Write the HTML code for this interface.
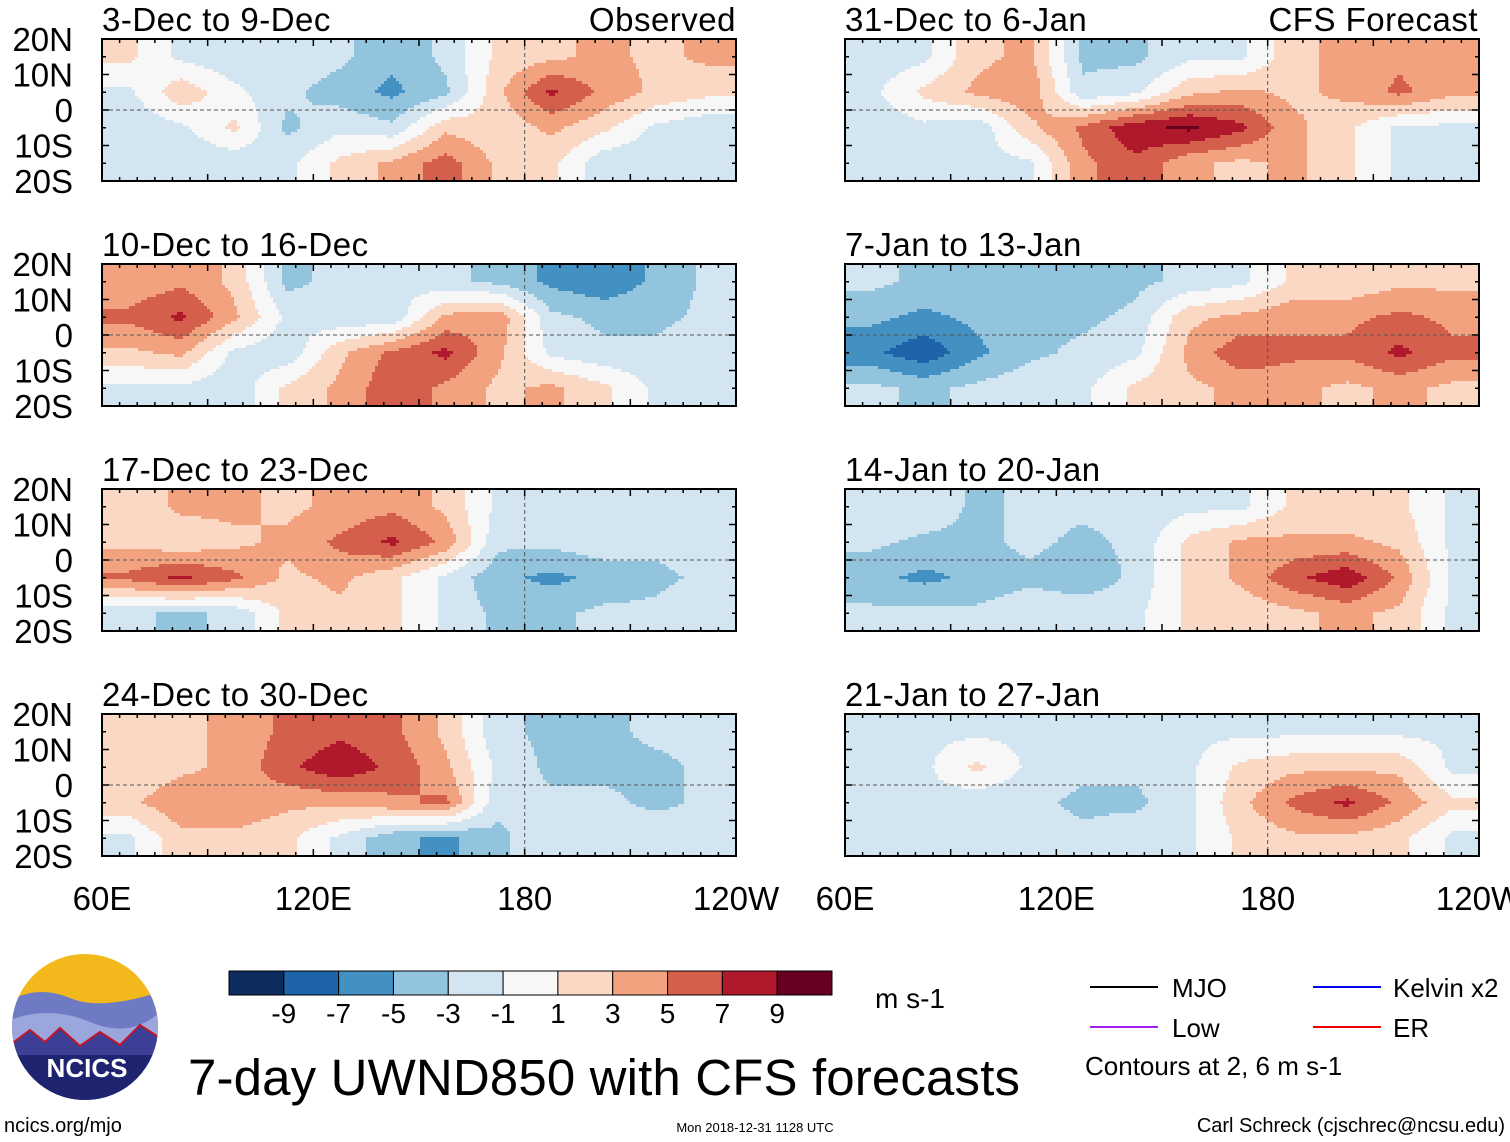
<!DOCTYPE html>
<html><head><meta charset="utf-8"><style>
html,body{margin:0;padding:0;background:#fff;}
svg{display:block;font-family:"Liberation Sans",sans-serif;}
</style></head><body>
<svg id="root" width="1510" height="1142" viewBox="0 0 1510 1142" xmlns="http://www.w3.org/2000/svg">
<g id="panels"></g>
<g id="labels"></g>
<g id="cbar"></g>
<g>
  <clipPath id="logoclip"><circle cx="85" cy="1027" r="73"/></clipPath>
  <g clip-path="url(#logoclip)">
    <rect x="10" y="952" width="150" height="150" fill="#f2b81c"/>
    <path d="M10 1000 Q40 985 70 998 T160 992 L160 1102 L10 1102Z" fill="#6e7bc4"/>
    <path d="M10 1020 Q50 1005 90 1022 T160 1012 L160 1102 L10 1102Z" fill="#9aa6dc"/>
    <path d="M10 1045 L30 1030 L45 1042 L60 1028 L80 1046 L100 1032 L120 1045 L140 1025 L160 1038 L160 1102 L10 1102Z" fill="#3c3f95" stroke="#c0142a" stroke-width="2"/>
    <rect x="10" y="1055" width="150" height="50" fill="#1e2470"/>
  </g>
  <text x="87" y="1077" font-size="26" font-weight="bold" fill="#fff" text-anchor="middle">NCICS</text>
</g>
<text x="188" y="1095" font-size="51" textLength="832" fill="#000">7-day UWND850 with CFS forecasts</text>
<text x="4" y="1132" font-size="20">ncics.org/mjo</text>
<text x="755" y="1132" font-size="13" text-anchor="middle">Mon 2018-12-31 1128 UTC</text>
<text x="1505" y="1132" font-size="20" text-anchor="end">Carl Schreck (cjschrec@ncsu.edu)</text>
<text x="875" y="1008" font-size="28">m s-1</text>
<g>
  <line x1="1090" y1="987" x2="1158" y2="987" stroke="#000" stroke-width="2"/>
  <text x="1172" y="997" font-size="26">MJO</text>
  <line x1="1090" y1="1027" x2="1158" y2="1027" stroke="#a020f0" stroke-width="2"/>
  <text x="1172" y="1037" font-size="26">Low</text>
  <line x1="1313" y1="987" x2="1381" y2="987" stroke="#0000ee" stroke-width="2"/>
  <text x="1393" y="997" font-size="26">Kelvin x2</text>
  <line x1="1313" y1="1027" x2="1381" y2="1027" stroke="#ee0000" stroke-width="2"/>
  <text x="1393" y="1037" font-size="26">ER</text>
  <text x="1085" y="1075" font-size="26">Contours at 2, 6 m s-1</text>
</g>
</svg>
<script>
const panelTitles = ["3-Dec to 9-Dec","10-Dec to 16-Dec","17-Dec to 23-Dec","24-Dec to 30-Dec","31-Dec to 6-Jan","7-Jan to 13-Jan","14-Jan to 20-Jan","21-Jan to 27-Jan"];
const gridLons = [67.5,82.5,97.5,112.5,127.5,142.5,157.5,172.5,187.5,202.5,217.5,232.5];
const gridLats = [15,5,-5,-15];
const field1 = [[1.5,-1.5,-2.5,-1.5,-2.5,-4.5,-2.5,1.5,2.5,3.5,2.5,3.5],[-1.5,2.5,-0.5,-2.5,-4,-5.5,-3.5,2.5,7.5,4.5,2.5,1.5],[-2.5,-1.5,1.5,-3.5,-1.5,-2.5,2.5,1.5,3.5,1.5,-1.5,-2.5],[-1.5,-2.5,-2.5,-1.5,1.5,3.5,6,2.5,1.5,-2.5,-2.5,-1.5]];
const field2 = [[3.5,4.5,2.5,-3.5,-2.5,-1.5,-2.5,-3.5,-5.5,-6.5,-4.5,-2.5],[5.5,7.5,3.5,-1.5,-2.5,-2.5,3.5,4.5,-2.5,-3.5,-3.5,-2.5],[2.5,3.5,-1.5,-2.5,2.5,5.5,7.5,3.5,-1.5,-2.5,-2.5,-1.5],[-1.5,-1.5,-2.5,1.5,3.5,6.5,4.5,2.5,3.5,1.5,-1.5,-1.5]];
const field3 = [[1.5,3.5,3.5,2.5,3.5,4.5,2.5,-1.5,-1.5,-1.5,-2.5,-1.5],[2.5,1.5,2.5,3.5,5.5,7.5,4.5,-2.5,-2.5,-1.5,-2.5,-1.5],[5.5,7.5,5.5,2.5,3.5,1.5,-1.5,-4.5,-5.5,-4.5,-3.5,-2.5],[-2.5,-3.5,-2.5,1.5,2.5,1.5,-1.5,-3.5,-3.5,-2.5,-2.5,-1.5]];
const field4 = [[1.5,2.5,3.5,5.5,6.5,5.5,2.5,-2.5,-3.5,-3.5,-2.5,-2.5],[1.5,2.5,3.5,6.5,8.5,6.5,3.5,-1.5,-3.5,-3.5,-3.5,-2.5],[2.5,4.5,4.5,3.5,3.5,4.5,5.5,-2.5,-2.5,-2.5,-3.5,-2.5],[-1.5,2.5,2.5,1.5,-1.5,-4.5,-5.5,-3.5,-1.5,-1.5,-1.5,-1.5]];
const field5 = [[-2.5,-1.5,2.5,3.5,-3.5,-3.5,-1.5,-1.5,2.5,3.5,4.5,3.5],[-1.5,1.5,3.5,4.5,-2.5,-1.5,2.5,3.5,2.5,3.5,5.5,3.5],[-2.5,-1.5,-2.5,2.5,5.5,8.5,9.5,7.5,3.5,1.5,-1.5,-1.5],[-1.5,-2.5,-1.5,-1.5,4.5,6.5,3.5,2.5,3.5,1.5,-1.5,-1.5]];
const field6 = [[-2.5,-3.5,-3.5,-3.5,-4.5,-3.5,-2.5,-1.5,1.5,1.5,2.5,2.5],[-4.5,-5.5,-4.5,-3.5,-3.5,-2.5,2.5,3.5,4.5,4.5,5.5,4.5],[-6.5,-8.5,-5.5,-3.5,-2.5,-1.5,3.5,6.5,5.5,5.5,7.5,5.5],[-2.5,-3.5,-2.5,-1.5,-1.5,1.5,2.5,3.5,3.5,2.5,3.5,2.5]];
const field7 = [[-1.5,-1.5,-3.5,-2.5,-2.5,-2.5,-1.5,-1.5,1.5,1.5,1.5,-1.5],[-2.5,-3.5,-3.5,-2.5,-3.5,-2.5,1.5,3.5,3.5,3.5,2.5,-1.5],[-4.5,-5.5,-4.5,-3.5,-4.5,-2.5,1.5,3.5,6.5,8.5,4.5,-1.5],[-2.5,-2.5,-2.5,-1.5,-1.5,-1.5,1.5,1.5,2.5,3.5,2.5,-1.5]];
const field8 = [[-1.5,-1.5,-1.5,-1.5,-1.5,-1.5,-1.5,-1.5,-1.5,-1.5,-1.5,-1.5],[-1.5,-1.5,1.5,-1.5,-2.5,-2.5,-1.5,1.5,2.5,2.5,2.5,-1.5],[-1.5,-1.5,-2.5,-2.5,-3.5,-3.5,-1.5,2.5,5.5,7.5,4.5,1.5],[-1.5,-1.5,-1.5,-1.5,-2.5,-1.5,-1.5,1.5,2.5,2.5,1.5,-1.5]];
const fields = [field1,field2,field3,field4,field5,field6,field7,field8];
const cbarLevels = [-9,-7,-5,-3,-1,1,3,5,7,9];
const cbarColors = ["#0b2c5c","#1f63a8","#4291c2","#93c4de","#d2e5f0","#f7f7f7","#fbd8c4","#f2a27f","#d35f4c","#b0182b","#670020"];
const latTicks = ["20N","10N","0","10S","20S"];
const lonTicks = ["60E","120E","180","120W"];
const lonTickVals = [60,120,180,240];

const NS="http://www.w3.org/2000/svg";
function mk(tag,attrs,parent){const e=document.createElementNS(NS,tag);for(const k in attrs)e.setAttribute(k,attrs[k]);parent.appendChild(e);return e;}
const PW=634, PH=142;
const colX=[102,845], rowY=[39,264,489,714];
function colorFor(v){let i=0;while(i<cbarLevels.length&&v>=cbarLevels[i])i++;return cbarColors[i];}
function interp(f,lon,lat){
  const fc=(lon-gridLons[0])/15, fr=(gridLats[0]-lat)/10;
  const c0=Math.max(0,Math.min(gridLons.length-1,Math.floor(fc))), r0=Math.max(0,Math.min(gridLats.length-1,Math.floor(fr)));
  const c1=Math.min(gridLons.length-1,c0+1), r1=Math.min(gridLats.length-1,r0+1);
  const tx=Math.max(0,Math.min(1,fc-c0)), ty=Math.max(0,Math.min(1,fr-r0));
  const a=f[r0][c0]*(1-tx)+f[r0][c1]*tx, b=f[r1][c0]*(1-tx)+f[r1][c1]*tx;
  return a*(1-ty)+b*ty;
}
const panels=document.getElementById('panels');
const labels=document.getElementById('labels');
fields.forEach((f,p)=>{
  const x0=colX[p<4?0:1], y0=rowY[p%4];
  const xScale=lon=>x0+(lon-60)/180*PW;
  const yScale=lat=>y0+(20-lat)/40*PH;
  const g=mk('g',{},panels);
  
  
  const cell=3;
  for(let py=0;py<PH;py+=cell){
    const lat=20-(py+cell/2)/PH*40;
    let runStart=0, runCol=null;
    for(let px=0;px<=PW+cell;px+=cell){
      let col=null;
      if(px<PW){const lon=60+(px+cell/2)/PW*180;col=colorFor(interp(f,lon,lat));}
      if(col!==runCol){
        if(runCol!==null){
          const r=mk('rect',{x:x0+runStart,y:y0+py,width:Math.min(px,PW)-runStart+0.5,height:Math.min(cell,PH-py)+0.5,fill:runCol},g);
          
          
        }
        runStart=px;runCol=col;
      }
    }
  }
  mk('line',{x1:x0,x2:x0+PW,y1:yScale(0),y2:yScale(0),stroke:'#555','stroke-dasharray':'4,3','stroke-width':1},g);
  mk('line',{x1:xScale(180),x2:xScale(180),y1:y0,y2:y0+PH,stroke:'#555','stroke-dasharray':'4,3','stroke-width':1},g);
  const fr=mk('rect',{x:x0,y:y0,width:PW,height:PH,fill:'none',stroke:'#000','stroke-width':2},g);
  
  
  for(let lon=60;lon<=240;lon+=5){
    const L=lon%30===0?7:4;
    mk('line',{x1:xScale(lon),x2:xScale(lon),y1:y0,y2:y0+L,stroke:'#000','stroke-width':1.5},g);
    mk('line',{x1:xScale(lon),x2:xScale(lon),y1:y0+PH,y2:y0+PH-L,stroke:'#000','stroke-width':1.5},g);
  }
  for(let lat=-20;lat<=20;lat+=5){
    const L=lat%10===0?7:4;
    mk('line',{x1:x0,x2:x0+L,y1:yScale(lat),y2:yScale(lat),stroke:'#000','stroke-width':1.5},g);
    mk('line',{x1:x0+PW,x2:x0+PW-L,y1:yScale(lat),y2:yScale(lat),stroke:'#000','stroke-width':1.5},g);
  }
  const t=mk('text',{x:x0,y:y0-8,'font-size':33,'letter-spacing':'0.5'},labels);t.textContent=panelTitles[p];
  
  
  if(p<4){
    latTicks.forEach((s,i)=>{const tt=mk('text',{x:73,y:y0+i*PH/4+12,'font-size':33,'text-anchor':'end'},labels);tt.textContent=s;
      
      });
  }
  if(p%4===3){
    lonTickVals.forEach((v,i)=>{const tt=mk('text',{x:xScale(v),y:910,'font-size':33,'text-anchor':'middle'},labels);tt.textContent=lonTicks[i];
      
      });
  }
});
const t1=mk('text',{x:736,y:31,'font-size':33,'text-anchor':'end','letter-spacing':'0.5'},labels);t1.textContent='Observed';


const t2=mk('text',{x:1478,y:31,'font-size':33,'text-anchor':'end','letter-spacing':'0.5'},labels);t2.textContent='CFS Forecast';


const cb=document.getElementById('cbar');
const bw=(832-229)/cbarColors.length;
cbarColors.forEach((c,i)=>{const r=mk('rect',{x:229+i*bw,y:971,width:bw,height:24,fill:c,stroke:'#000','stroke-width':1},cb);
  
  });
cbarLevels.forEach((v,i)=>{const tt=mk('text',{x:229+(i+1)*bw,y:1023,'font-size':28,'text-anchor':'middle'},cb);tt.textContent=String(v);
  
  });
</script>
</body></html>
